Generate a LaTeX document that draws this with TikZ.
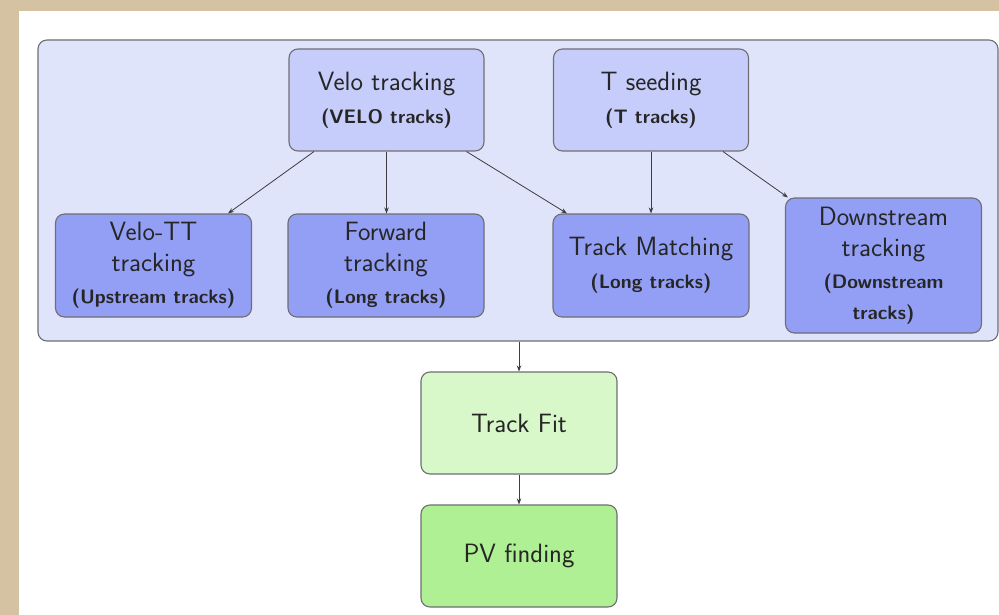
\documentclass[tikz,border=0pt]{standalone}
\usetikzlibrary{arrows.meta,calc}
\definecolor{parch}{RGB}{212,194,162}
\definecolor{contfill}{RGB}{224,228,250}
\definecolor{topfill}{RGB}{199,205,250}
\definecolor{midfill}{RGB}{147,159,245}
\definecolor{fitfill}{RGB}{216,248,202}
\definecolor{pvfill}{RGB}{176,240,148}
\definecolor{edge}{RGB}{110,110,115}
\definecolor{arrowc}{RGB}{60,60,65}
\newcommand{\subt}[1]{{\fontsize{19.5}{22}\selectfont\bfseries #1}}
\tikzset{
  box/.style={draw=edge, line width=1.1pt, rounded corners=9pt, align=center,
    font=\sffamily\fontsize{26.5}{30}\selectfont, text=black!85, inner sep=0pt},
  topbox/.style={box, fill=topfill, minimum width=195pt, minimum height=102pt},
  midbox/.style={box, fill=midfill, minimum width=196pt, minimum height=103pt},
  arr/.style={draw=arrowc, line width=0.8pt, -{Stealth[length=6pt,width=4.5pt]}}
}
\begin{document}
\begin{tikzpicture}[x=1pt,y=-1pt]
\fill[parch] (0,0) rectangle (999,615);
\fill[white] (19,11) rectangle (999,615);
\useasboundingbox (0,0) rectangle (999,615);
\node[draw=edge, line width=1.1pt, rounded corners=9pt, fill=contfill,
  minimum width=960pt, minimum height=301pt] (cont) at (518,190.5) {};
\node[topbox] (velo) at (386.5,100) {Velo tracking\\[3pt]\subt{(VELO tracks)}};
\node[topbox] (tseed) at (651,100) {T seeding\\[3pt]\subt{(T tracks)}};
\node[midbox] (vtt) at (153.5,265.5) {Velo-TT\\[1pt]tracking\\[2pt]\subt{(Upstream tracks)}};
\node[midbox] (fwd) at (386,265.5) {Forward\\[1pt]tracking\\[2pt]\subt{(Long tracks)}};
\node[midbox] (match) at (651,265.5) {Track Matching\\[3pt]\subt{(Long tracks)}};
\node[midbox, minimum height=135pt] (down) at (883.5,265.5) {Downstream\\[1pt]tracking\\[2pt]\subt{(Downstream}\\[1pt]\subt{tracks)}};
\node[box, fill=fitfill, minimum width=196pt, minimum height=102pt] (fit) at (519,423) {Track Fit};
\node[box, fill=pvfill, minimum width=196pt, minimum height=102pt] (pv) at (519,556) {PV finding};
\draw[arr] ([xshift=-72.5pt]velo.south) -- ([xshift=74.5pt]vtt.north);
\draw[arr] (velo.south) -- (velo.south |- fwd.north);
\draw[arr] ([xshift=80pt]velo.south) -- ([xshift=-84pt]match.north);
\draw[arr] (tseed.south) -- (match.north);
\draw[arr] ([xshift=72pt]tseed.south) -- ([xshift=3pt]down.north west);
\draw[arr] (cont.south -| fit.north) -- (fit.north);
\draw[arr] (fit.south) -- (pv.north);
\end{tikzpicture}
\end{document}
